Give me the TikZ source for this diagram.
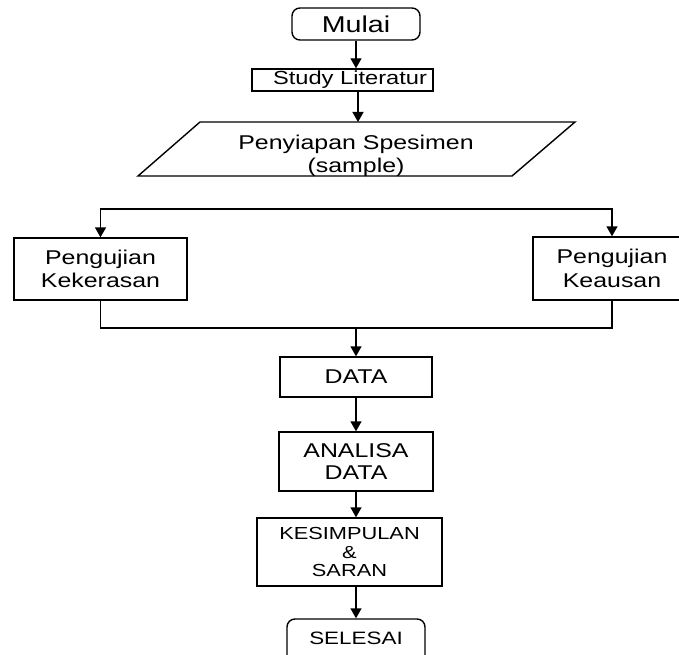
\documentclass[tikz,border=0pt]{standalone}
\usepackage{fontspec}
\setmainfont{Liberation Sans}[FakeStretch=1.25]
\usetikzlibrary{arrows.meta}
\tikzset{
  box/.style={draw, line width=1.4bp, rectangle, inner sep=0pt, align=center},
  rbox/.style={box, rounded corners=8bp},
  conn/.style={line width=1.4bp, -{Triangle[length=10bp,width=11bp]}},
  plain/.style={line width=1.4bp},
}
\begin{document}
\begin{tikzpicture}[x=1bp,y=-1bp]
\useasboundingbox (0,0) rectangle (679,655);
\clip (0,0) rectangle (679,655);
\node[rbox, minimum width=128bp, minimum height=32bp, font=\fontsize{23}{27}\selectfont] (mulai) at (356,24) {Mulai};
\node[box, minimum width=181bp, minimum height=22bp, font=\fontsize{19}{22}\selectfont] (study) at (342.5,80) {\hspace*{15bp}Study Literatur};
\draw[plain] (200,122) -- (575,122) -- (512,176) -- (138,176) -- cycle;
\coordinate (ptop) at (358,122);
\node[font=\fontsize{20}{23.5}\selectfont, align=center, inner sep=0pt] (spes) at (356,156) {Penyiapan Spesimen\\(sample)};
\node[box, minimum width=173bp, minimum height=62bp, font=\fontsize{20}{23.5}\selectfont] (kek) at (100.5,269) {Pengujian\\Kekerasan};
\node[box, minimum width=158bp, minimum height=63bp, font=\fontsize{20}{23.5}\selectfont] (aus) at (612,268.5) {Pengujian\\Keausan};
\node[box, minimum width=152bp, minimum height=40bp, font=\fontsize{20}{23.5}\selectfont] (data) at (356,377) {DATA};
\node[box, minimum width=154bp, minimum height=59bp, font=\fontsize{20}{22}\selectfont] (anal) at (356,461.5) {ANALISA\\DATA};
\node[box, minimum width=185bp, minimum height=68bp, font=\fontsize{17.5}{19}\selectfont] (kes) at (349.5,552) {KESIMPULAN\\\&\\SARAN};
\node[rbox, minimum width=138bp, minimum height=52bp, font=\fontsize{18}{21}\selectfont] (sel) at (356,645) {\raisebox{13bp}{SELESAI}};
\coordinate (split) at (356,209);
\coordinate (merge) at (356,328);
\draw[conn] (mulai.south) -- (mulai.south |- study.north);
\draw[conn] (study.south -| ptop) -- (ptop);
\draw[conn] (split) -| (kek.north);
\draw[conn] (split) -| (aus.north);
\draw[plain] (kek.south) |- (merge);
\draw[plain] (aus.south) |- (merge);
\draw[conn] (merge) -- (data.north);
\draw[conn] (data.south) -- (anal.north);
\draw[conn] (anal.south) -- (anal.south |- kes.north);
\draw[conn] (kes.south -| sel.north) -- (sel.north);
\end{tikzpicture}
\end{document}
